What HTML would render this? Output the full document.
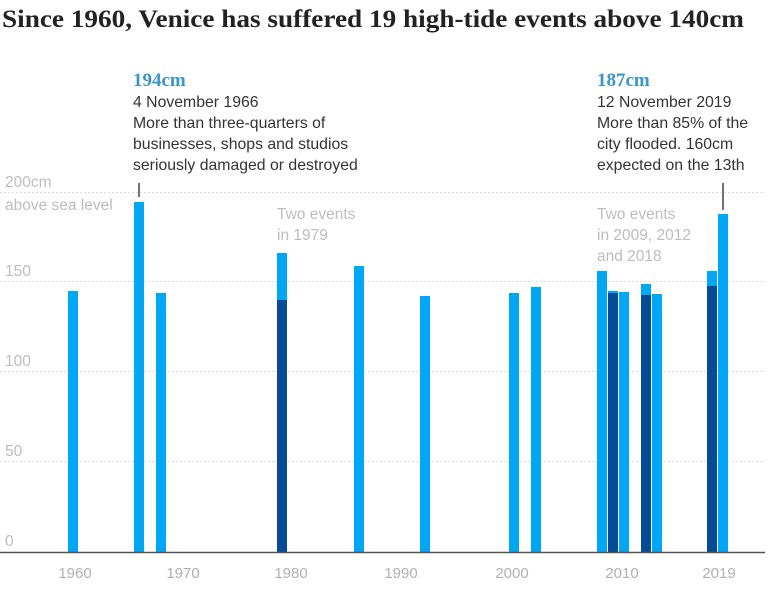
<!DOCTYPE html>
<html><head><style>
html,body{margin:0;padding:0;background:#fff;}
svg{display:block;}
.t{font-family:"Liberation Serif",serif;font-weight:bold;font-size:25px;fill:#222;}
.h{font-family:"Liberation Serif",serif;font-weight:bold;font-size:19px;fill:#3a95c8;}
.a{font-family:"Liberation Sans",sans-serif;font-size:15.8px;fill:#333;}
.g{font-family:"Liberation Sans",sans-serif;font-size:15.5px;fill:#bdbdbd;}
.x{font-family:"Liberation Sans",sans-serif;font-size:15px;fill:#b0b0b0;}
</style></head><body>
<svg width="770" height="592" viewBox="0 0 770 592">
<text class="t" x="2" y="27" textLength="742" lengthAdjust="spacingAndGlyphs">Since 1960, Venice has suffered 19 high-tide events above 140cm</text>
<g stroke="#ddd" stroke-width="1" stroke-dasharray="2,2">
<line x1="0" x2="765" y1="192.5" y2="192.5"/>
<line x1="0" x2="765" y1="281.5" y2="281.5"/>
<line x1="0" x2="765" y1="371.5" y2="371.5"/>
<line x1="0" x2="765" y1="461.5" y2="461.5"/>
</g>
<text class="g" x="5" y="187">200cm</text>
<text class="g" x="5" y="210">above sea level</text>
<text class="g" x="5" y="276">150</text>
<text class="g" x="5" y="366">100</text>
<text class="g" x="5" y="456">50</text>
<text class="g" x="5" y="546">0</text>
<text class="g" x="277" y="219">Two events</text>
<text class="g" x="277" y="240">in 1979</text>
<text class="g" x="597" y="219">Two events</text>
<text class="g" x="597" y="240">in 2009, 2012</text>
<text class="g" x="597" y="261">and 2018</text>
<g fill="#00a7f5">
<rect x="68" y="291" width="10" height="261"/>
<rect x="134" y="202" width="10" height="350"/>
<rect x="156" y="293" width="10" height="259"/>
<rect x="277" y="253" width="10" height="299"/>
<rect x="354" y="266" width="10" height="286"/>
<rect x="420" y="296" width="10" height="256"/>
<rect x="509" y="293" width="10" height="259"/>
<rect x="531" y="287" width="10" height="265"/>
<rect x="597" y="271" width="10" height="281"/>
<rect x="608" y="291" width="10" height="261"/>
<rect x="619" y="292" width="10" height="260"/>
<rect x="641" y="284" width="10" height="268"/>
<rect x="652" y="294" width="10" height="258"/>
<rect x="707" y="271" width="10" height="281"/>
<rect x="718" y="214" width="10" height="338"/>
</g>
<g fill="#054b96">
<rect x="277" y="300" width="10" height="252"/>
<rect x="608" y="293" width="10" height="259"/>
<rect x="641" y="295" width="10" height="257"/>
<rect x="707" y="286" width="10" height="266"/>
</g>
<line x1="0" x2="765" y1="552.5" y2="552.5" stroke="#555" stroke-width="1.5"/>
<text class="x" x="75" y="578" text-anchor="middle">1960</text>
<text class="x" x="183" y="578" text-anchor="middle">1970</text>
<text class="x" x="291" y="578" text-anchor="middle">1980</text>
<text class="x" x="401" y="578" text-anchor="middle">1990</text>
<text class="x" x="512" y="578" text-anchor="middle">2000</text>
<text class="x" x="622" y="578" text-anchor="middle">2010</text>
<text class="x" x="719" y="578" text-anchor="middle">2019</text>
<line x1="139" x2="139" y1="183" y2="197" stroke="#444" stroke-width="1.5"/>
<line x1="723" x2="723" y1="183" y2="210" stroke="#444" stroke-width="1.5"/>
<text class="h" x="133" y="86">194cm</text>
<text class="a" x="133" y="107">4 November 1966</text>
<text class="a" x="133" y="128">More than three-quarters of</text>
<text class="a" x="133" y="149">businesses, shops and studios</text>
<text class="a" x="133" y="170">seriously damaged or destroyed</text>
<text class="h" x="597" y="86">187cm</text>
<text class="a" x="597" y="107">12 November 2019</text>
<text class="a" x="597" y="128">More than 85% of the</text>
<text class="a" x="597" y="149">city flooded. 160cm</text>
<text class="a" x="597" y="170">expected on the 13th</text>
</svg>
</body></html>
